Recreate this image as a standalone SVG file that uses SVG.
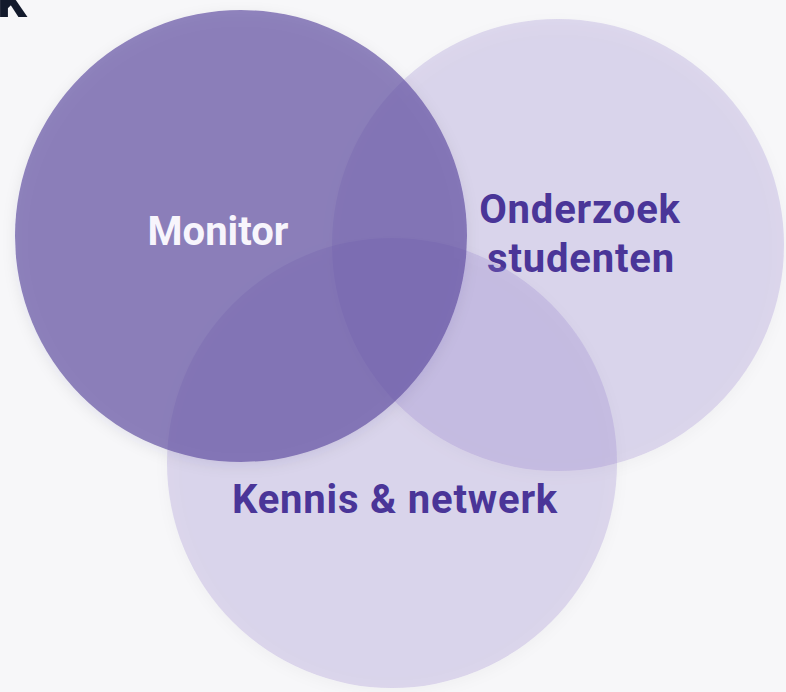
<svg xmlns="http://www.w3.org/2000/svg" width="786" height="692" viewBox="0 0 786 692">
  <style>
    .lbl { font-family: Roboto, "Liberation Sans", sans-serif; font-weight: 700; font-size: 40px; text-anchor: middle; }
    .dark { fill: #4a3598; letter-spacing: 0.8px; }
    .light { fill: #f7f5fc; }
    .soft { fill: #8f7bcd; fill-opacity: 0.25; }
    .main { fill: #5f4ca1; fill-opacity: 0.68; }
  </style>
  <defs>
    <filter id="shadow" x="-20%" y="-20%" width="140%" height="140%">
      <feDropShadow dx="0" dy="4" stdDeviation="7" flood-color="#2a2350" flood-opacity="0.12"/>
    </filter>
  </defs>
  <rect x="0" y="0" width="786" height="692" fill="#f7f7f9"/>
  <text x="-3" y="17" font-family="Roboto, 'Liberation Sans', sans-serif" font-weight="700" font-size="56" fill="#131a2c">k</text>
  <g id="connectors"></g>
  <g id="onderzoek">
    <circle class="soft" cx="558" cy="245" r="226" filter="url(#shadow)"/>
    <text class="lbl dark" x="580" y="223">Onderzoek</text>
    <text class="lbl dark" x="581" y="272">studenten</text>
  </g>
  <g id="kennis">
    <circle class="soft" cx="392" cy="463" r="225" filter="url(#shadow)"/>
    <text class="lbl dark" x="395" y="513">Kennis &amp; netwerk</text>
  </g>
  <g id="monitor">
    <circle class="main" cx="241" cy="236" r="226" filter="url(#shadow)"/>
    <text class="lbl light" x="218" y="245">Monitor</text>
  </g>
</svg>
